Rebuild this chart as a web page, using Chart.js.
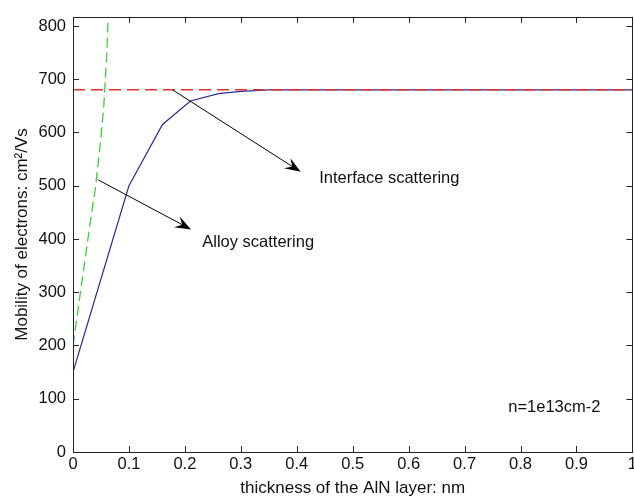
<!DOCTYPE html>
<html>
<head>
<meta charset="utf-8">
<script src="https://cdn.jsdelivr.net/npm/chart.js"></script>
<style>
  html, body { margin: 0; padding: 0; background: #fff; overflow: hidden; }
  #wrap { position: absolute; left: 0; top: 0; width: 640px; height: 499px; }
</style>
</head>
<body>
<div id="wrap"><canvas id="chart" width="640" height="499"></canvas></div>
<script>
// valeurs
const xTicks = [0, 0.1, 0.2, 0.3, 0.4, 0.5, 0.6, 0.7, 0.8, 0.9, 1];
const yTicks = [0, 100, 200, 300, 400, 500, 600, 700, 800];

const totalX = [0, 0.1, 0.16, 0.21, 0.26, 0.3, 0.35, 0.4, 0.5, 0.6, 0.7, 0.8, 0.9, 1];
const totalY = [150, 500, 615, 659, 673, 677, 680, 680, 680, 680, 680, 680, 680, 680];

const alloyX = [0, 0.01, 0.02, 0.03, 0.04, 0.05, 0.055, 0.06, 0.065];
const alloyY = [200, 275, 350, 425, 495, 590, 650, 740, 870];

const interfaceX = [0, 1];
const interfaceY = [680, 680];

const interfaceArrow = [[0.178, 680], [0.407, 526]];
const alloyArrow = [[0.045, 511], [0.211, 418]];
const labels = [
  { text: 'Interface scattering', at: [0.44, 514] },
  { text: 'Alloy scattering', at: [0.231, 394] },
  { text: 'n=1e13cm-2', at: [0.778, 83] }
];

const FONT = '"Liberation Sans", Arial, sans-serif';
Chart.defaults.font.family = FONT;
Chart.defaults.font.size = 16.5;
Chart.defaults.color = '#111';

const pts = (xs, ys) => xs.map((x, i) => ({ x: x, y: ys[i] }));

// cadre, graduations intérieures, flèches et textes
const decor = {
  id: 'decor',
  afterDraw(chart) {
    const ctx = chart.ctx;
    const a = chart.chartArea;
    const sx = chart.scales.x, sy = chart.scales.y;
    ctx.save();
    ctx.strokeStyle = '#222';
    ctx.lineWidth = 1;
    ctx.strokeRect(Math.round(a.left) + 0.5, Math.round(a.top) + 0.5,
      Math.round(a.right - a.left), Math.round(a.bottom - a.top));
    ctx.beginPath();
    xTicks.forEach(v => {
      const px = Math.round(sx.getPixelForValue(v)) + 0.5;
      ctx.moveTo(px, a.bottom); ctx.lineTo(px, a.bottom - 6);
      ctx.moveTo(px, a.top); ctx.lineTo(px, a.top + 6);
    });
    yTicks.forEach(v => {
      const py = Math.round(sy.getPixelForValue(v)) + 0.5;
      ctx.moveTo(a.left, py); ctx.lineTo(a.left + 6, py);
      ctx.moveTo(a.right, py); ctx.lineTo(a.right - 6, py);
    });
    ctx.stroke();

    [interfaceArrow, alloyArrow].forEach(ar => {
      const x0 = sx.getPixelForValue(ar[0][0]), y0 = sy.getPixelForValue(ar[0][1]);
      const x1 = sx.getPixelForValue(ar[1][0]), y1 = sy.getPixelForValue(ar[1][1]);
      const ang = Math.atan2(y1 - y0, x1 - x0);
      ctx.strokeStyle = '#000';
      ctx.beginPath();
      ctx.moveTo(x0, y0); ctx.lineTo(x1 - 8 * Math.cos(ang), y1 - 8 * Math.sin(ang));
      ctx.stroke();
      const L = 16, W = 6, N = 10;
      const c = Math.cos(ang), s = Math.sin(ang);
      ctx.fillStyle = '#000';
      ctx.beginPath();
      ctx.moveTo(x1, y1);
      ctx.lineTo(x1 - L * c + W * s, y1 - L * s - W * c);
      ctx.lineTo(x1 - N * c, y1 - N * s);
      ctx.lineTo(x1 - L * c - W * s, y1 - L * s + W * c);
      ctx.closePath();
      ctx.fill();
    });

    ctx.fillStyle = '#111';
    ctx.font = '16.5px ' + FONT;
    ctx.textAlign = 'left';
    ctx.textBaseline = 'middle';
    labels.forEach(l => {
      ctx.fillText(l.text, sx.getPixelForValue(l.at[0]), sy.getPixelForValue(l.at[1]));
    });
    ctx.restore();
  }
};

new Chart(document.getElementById('chart'), {
  type: 'line',
  data: {
    datasets: [
      { data: pts(interfaceX, interfaceY), borderColor: '#e03434', borderWidth: 1.5, borderDash: [12, 6] },
      { data: pts(alloyX, alloyY), borderColor: '#3cd03c', borderWidth: 1.3, borderDash: [10, 5] },
      { data: pts(totalX, totalY), borderColor: '#2a2a96', borderWidth: 1.2 }
    ]
  },
  options: {
    responsive: false,
    animation: false,
    events: [],
    elements: { point: { radius: 0 }, line: { tension: 0 } },
    layout: { padding: { top: 9, right: 5, left: 0, bottom: 0 } },
    plugins: { legend: { display: false }, tooltip: { enabled: false } },
    scales: {
      x: {
        type: 'linear', min: 0, max: 1,
        afterBuildTicks: s => { s.ticks = xTicks.map(v => ({ value: v })); },
        afterFit: s => { s.height = 47; },
        grid: { display: false, drawTicks: false },
        border: { display: false },
        ticks: { padding: 3, maxRotation: 0, autoSkip: false, callback: v => String(v) },
        title: { display: true, text: 'thickness of the AlN layer: nm', font: { size: 17 }, padding: { top: 0, bottom: 0 } }
      },
      y: {
        type: 'linear', min: 0, max: 817,
        afterBuildTicks: s => { s.ticks = yTicks.map(v => ({ value: v })); },
        afterFit: s => { s.width = 73; },
        grid: { display: false, drawTicks: false },
        border: { display: false },
        ticks: { padding: 7, autoSkip: false, callback: v => String(v) },
        title: { display: true, text: 'Mobility of electrons: cm²/Vs', font: { size: 17 }, padding: { top: 12, bottom: 0 } }
      }
    }
  },
  plugins: [decor]
});
</script>
</body>
</html>
